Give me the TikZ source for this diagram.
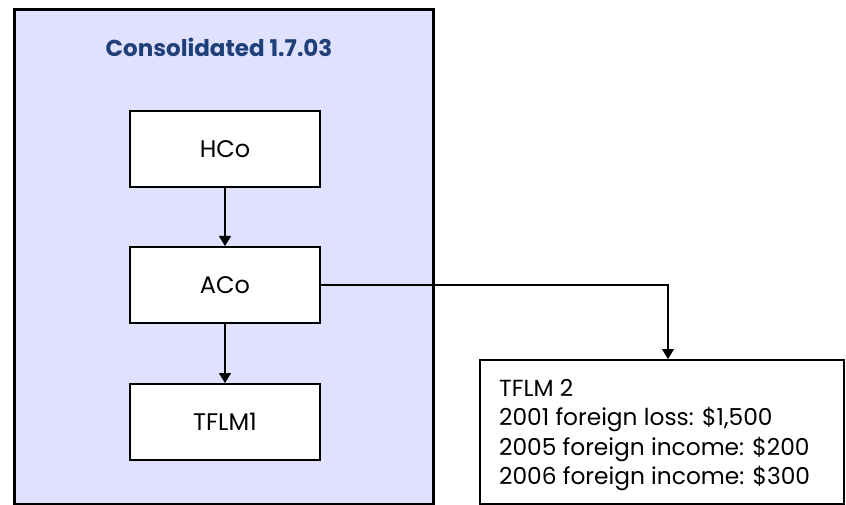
\documentclass[tikz,border=0pt]{standalone}
\usepackage{fontspec}
\setmainfont{Poppins}
\usetikzlibrary{arrows.meta}
\definecolor{lav}{HTML}{E0E0FF}
\definecolor{titleblue}{HTML}{1F3F78}
\begin{document}
\begin{tikzpicture}[x=1pt,y=-1pt,
  entity/.style={draw=black,line width=2pt,fill=white,minimum width=190pt,minimum height=76pt,inner sep=0pt,font=\fontsize{24}{28}\selectfont},
  link/.style={line width=1.5pt,-{Triangle[width=12pt,length=10pt]}}]
\useasboundingbox (0,0) rectangle (846,505);
\fill[white] (0,0) rectangle (846,505);
\node[draw=black,line width=3pt,fill=lav,minimum width=419pt,minimum height=494pt,inner sep=0pt,anchor=north west] (group) at (12.5,8.5) {};
\node[font=\bfseries\fontsize{23}{27}\selectfont,text=titleblue] (title) at (219,47) {Consolidated 1.7.03};
\node[entity] (hco) at (225,149) {HCo};
\node[entity] (aco) at (225,285) {ACo};
\node[entity] (tflm1) at (225,422) {TFLM1};
\node[draw=black,line width=2pt,fill=white,minimum width=364pt,minimum height=144pt,inner sep=0pt,anchor=north west] (tflm2) at (479,359) {};
\node[anchor=north west,align=left,font=\fontsize{23.3}{29.5}\selectfont,inner sep=0pt] (t2text) at (499,379) {TFLM 2\\2001 foreign loss: \$1,500\\2005 foreign income: \$200\\2006 foreign income: \$300};
\draw[link] (hco) -- (aco);
\draw[link] (aco) -- (tflm1);
\coordinate (bend) at (668,285);
\draw[link] (aco.east) -- (bend) -- (bend |- tflm2.north);
\end{tikzpicture}
\end{document}
